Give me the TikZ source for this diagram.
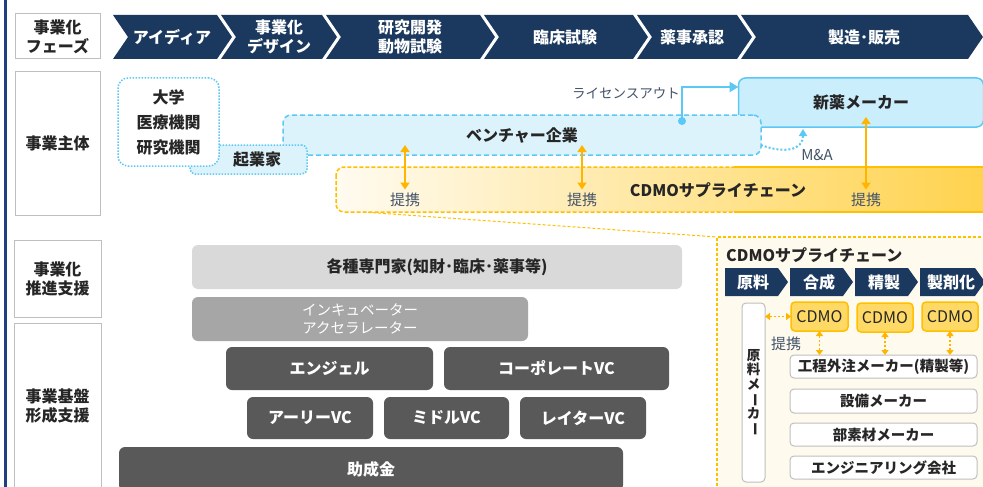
\documentclass[tikz,border=0pt]{standalone}
\usepackage{fontspec}
\setmainfont{Noto Sans CJK JP}
\usepackage{graphicx}
\usetikzlibrary{arrows.meta,calc}
\definecolor{navy}{HTML}{1B395E}
\definecolor{edgeblue}{HTML}{1F3F7F}
\definecolor{cyanb}{HTML}{5BC8F5}
\definecolor{vfill}{HTML}{DDF3FC}
\definecolor{sfill}{HTML}{CBEEFC}
\definecolor{orng}{HTML}{FFC000}
\definecolor{oarr}{HTML}{FFB400}
\definecolor{ofill}{HTML}{FFD966}
\definecolor{cream}{HTML}{FFFAEE}
\definecolor{barL}{HTML}{FFFBF0}
\definecolor{barR}{HTML}{FFD24C}
\definecolor{txt}{HTML}{262626}
\definecolor{slate}{HTML}{44546A}
\definecolor{lgray}{HTML}{BFBFBF}
\definecolor{ga}{HTML}{D9D9D9}
\definecolor{gb}{HTML}{A6A6A6}
\definecolor{gc}{HTML}{595959}
\newcommand\mchev[2]{\fill[navy] (#1,15) -- (#2,15) -- ({#2+15},37) -- (#2,59) -- (#1,59) -- ({#1+15},37) -- cycle;}
\newcommand\schev[2]{\fill[navy] (#1,268) -- (#2,268) -- ({#2+10},282) -- (#2,296) -- (#1,296) -- cycle;}
\newcommand\vbar{\rotatebox[origin=c]{-90}{ー}}
\begin{document}
\begin{tikzpicture}[x=1pt,y=-1pt,
  lbl/.style={draw=lgray, line width=1pt, fill=white, inner sep=0, outer sep=0, font=\bfseries\fontsize{16}{19}\selectfont, text=txt, align=center},
  phase/.style={text=white, font=\bfseries\fontsize{16}{19.5}\selectfont, align=center},
  actor/.style={font=\bfseries\fontsize{16}{18}\selectfont, text=txt, align=center},
  slt/.style={text=slate, font=\fontsize{15}{17}\selectfont},
  oarrow/.style={draw=oarr, line width=2.2pt, {Triangle[width=9pt,length=7pt]}-{Triangle[width=9pt,length=7pt]}},
  odot/.style={draw=oarr, line width=1.5pt, dash pattern=on 2pt off 2pt, {Triangle[width=7pt,length=5pt]}-{Triangle[width=7pt,length=5pt]}},
  supp/.style={rounded corners=6pt, inner sep=0, outer sep=0, font=\bfseries\fontsize{16}{18}\selectfont, align=center},
  wbox/.style={draw=lgray, fill=white, rounded corners=4pt, line width=1pt, inner sep=0, outer sep=0, font=\bfseries\fontsize{14.5}{16}\selectfont, text=txt},
  cbox/.style={draw=orng, fill=ofill, rounded corners=4pt, line width=1.5pt, inner sep=0, outer sep=0, font=\fontsize{16}{18}\selectfont, text=txt, minimum height=29pt}]
\useasboundingbox (0,0) rectangle (983,487);
\clip (0,0) rectangle (983,487);
\fill[white] (0,0) rectangle (983,487);
\draw[edgeblue, line width=3pt] (5,0) -- (5,487);

% left labels
\node[lbl, minimum width=85pt, minimum height=45pt] (l1) at (57.5,36.5) {事業化\\フェーズ};
\node[lbl, minimum width=85pt, minimum height=143pt] (l2) at (57.5,143.5) {事業主体};
\node[lbl, minimum width=87pt, minimum height=77pt] (l3) at (57.5,278.5) {事業化\\推進支援};
\node[lbl, minimum width=87pt, minimum height=166pt] (l4) at (57.5,406) {事業基盤\\形成支援};

% phase chevrons
\mchev{113}{217}
\mchev{221}{322}
\mchev{326}{480}
\mchev{484}{633}
\mchev{637}{737}
\mchev{741}{968}
\node[phase] (ph1) at (172,37) {アイディア};
\node[phase] (ph2) at (279,37) {事業化\\デザイン};
\node[phase] (ph3) at (410,37) {研究開発\\動物試験};
\node[phase] (ph4) at (565,37) {臨床試験};
\node[phase] (ph5) at (692,37) {薬事承認};
\node[phase] (ph6) at (864,37) {製造･販売};

% CDMO bar
\shade[left color=barL, right color=barR, rounded corners=8pt] (336,167) rectangle (995,212);
\draw[orng, line width=1.5pt, dash pattern=on 4pt off 2pt, rounded corners=8pt] (336,167) rectangle (995,212);
\draw[orng, line width=2.5pt] (734,167) -- (995,167) (734,212) -- (995,212);
\node[minimum width=659pt, minimum height=45pt, inner sep=0, outer sep=0] (cdmoBar) at (665.5,189.5) {};
\node[actor] (cdmoTitle) at (718,190) {CDMOサプライチェーン};

% actors
\node[draw=cyanb, fill=sfill, line width=1.5pt, rounded corners=7pt, minimum width=245pt, minimum height=49pt, inner sep=0, outer sep=0, actor] (shinyaku) at (861,102.5) {新薬メーカー};
\node[draw=cyanb, fill=vfill, line width=1.5pt, dash pattern=on 5pt off 3pt, rounded corners=8pt, minimum width=478pt, minimum height=40pt, inner sep=0, outer sep=0, actor] (venture) at (522,135) {ベンチャー企業};
\node[draw=cyanb, fill=vfill, line width=1.5pt, dash pattern=on 1.5pt off 1.5pt, rounded corners=5pt, minimum width=117pt, minimum height=29pt, inner sep=0, outer sep=0] (kigyoBox) at (248.5,159.5) {};
\node[actor] (kigyo) at (257,160) {起業家};
\node[draw=cyanb, fill=white, line width=1.5pt, dash pattern=on 1.5pt off 1.5pt, rounded corners=10pt, minimum width=101pt, minimum height=88pt, inner sep=0, outer sep=0, actor, font=\bfseries\fontsize{16}{25}\selectfont] (univ) at (168.5,122) {大学\\医療機関\\研究機関};

% license out
\coordinate (lo) at (682,121);
\draw[cyanb, line width=2.5pt, -{Triangle[width=10pt,length=9pt]}] (lo) |- ($(shinyaku.north west)+(0,9)$);
\fill[cyanb] (lo) circle (4pt);
\node[slt, font=\fontsize{13.5}{15}\selectfont] (lot) at (626,93) {ライセンスアウト};

% M&A
\coordinate (ma0) at ($(venture.east)+(0,10)$);
\coordinate (ma1) at (803,129);
\draw[cyanb, line width=2pt, dash pattern=on 2pt off 2pt, -{Triangle[width=8pt,length=7pt]}] (ma0) .. controls (785,154) and (803,150) .. (ma1);
\node[slt] (ma) at (817,155) {M\&A};

% 提携 arrows
\node[slt] (tk1) at (405,200) {提携};
\node[slt] (tk2) at (582,200) {提携};
\node[slt] (tk3) at (866,200) {提携};
\draw[oarrow] ($(venture.south -| tk1)+(0,-10)$) -- (tk1.north);
\draw[oarrow] ($(venture.south -| tk2)+(0,-10)$) -- (tk2.north);
\draw[oarrow] ($(shinyaku.south -| tk3)+(0,-10)$) -- (tk3.north);

% right panel
\node[draw=orng, fill=cream, line width=1.2pt, dash pattern=on 3pt off 2pt, minimum width=273pt, minimum height=258pt, inner sep=0, outer sep=0] (panel) at (853.5,366) {};
\draw[orng, line width=1pt, dash pattern=on 3pt off 2pt] ([xshift=27pt]cdmoBar.south west) -- (panel.north west);
\node[actor, anchor=west, inner sep=0] (pTitle) at (726,255) {CDMOサプライチェーン};
\schev{725}{778}
\schev{790}{843}
\schev{855}{908}
\schev{920}{975}
\node[phase] (sc1) at (753,282) {原料};
\node[phase] (sc2) at (819,282) {合成};
\node[phase] (sc3) at (884,282) {精製};
\node[phase] (sc4) at (951,282) {製剤化};

\node[draw=lgray, fill=white, line width=1pt, rounded corners=4pt, minimum width=23pt, minimum height=179pt, inner sep=0, outer sep=0, font=\bfseries\fontsize{13.5}{14.5}\selectfont, text=txt, align=center] (genryo) at (753.5,392.5) {原\\料\\メ\\\vbar\\カ\\\vbar};

\node[cbox, minimum width=57pt] (c1) at (819.5,316.5) {CDMO};
\node[cbox, minimum width=56pt] (c2) at (885,317.5) {CDMO};
\node[cbox, minimum width=56pt] (c3) at (950,316.5) {CDMO};

\node[wbox, minimum width=187pt, minimum height=23pt] (b1) at (883.5,366.5) {工程外注メーカー(精製等)};
\node[wbox, minimum width=187pt, minimum height=24pt] (b2) at (883.5,401) {設備メーカー};
\node[wbox, minimum width=187pt, minimum height=23pt] (b3) at (883.5,434.5) {部素材メーカー};
\node[wbox, minimum width=187pt, minimum height=23pt] (b4) at (883.5,467.5) {エンジニアリング会社};

\draw[odot] (genryo.east |- c1) -- (c1.west);
\node[slt] (tk4) at (786,344) {提携};
\draw[odot] (c1.south) -- (c1.south |- b1.north);
\draw[odot] (c2.south) -- (c2.south |- b1.north);
\draw[odot] (c3.south) -- (c3.south |- b1.north);

% support boxes
\node[supp, fill=ga, text=txt, minimum width=490pt, minimum height=44pt] (expert) at (437,267) {各種専門家(知財･臨床･薬事等)};
\node[supp, fill=gb, text=white, font=\fontsize{14.5}{18}\selectfont, minimum width=336pt, minimum height=44pt] (incub) at (360,319) {インキュベーター\\アクセラレーター};
\node[supp, fill=gc, text=white, minimum width=207pt, minimum height=43pt] (angel) at (329.5,368.5) {エンジェル};
\node[supp, fill=gc, text=white, minimum width=225pt, minimum height=43pt] (cvc) at (556.5,368.5) {コーポレートVC};
\node[supp, fill=gc, text=white, minimum width=126pt, minimum height=42pt] (early) at (310,418) {アーリーVC};
\node[supp, fill=gc, text=white, minimum width=125pt, minimum height=42pt] (middle) at (446.5,418) {ミドルVC};
\node[supp, fill=gc, text=white, minimum width=126pt, minimum height=42pt] (later) at (583,418) {レイターVC};
\node[supp, fill=gc, text=white, minimum width=504pt, minimum height=44pt] (grant) at (371,469) {助成金};
\end{tikzpicture}
\end{document}
